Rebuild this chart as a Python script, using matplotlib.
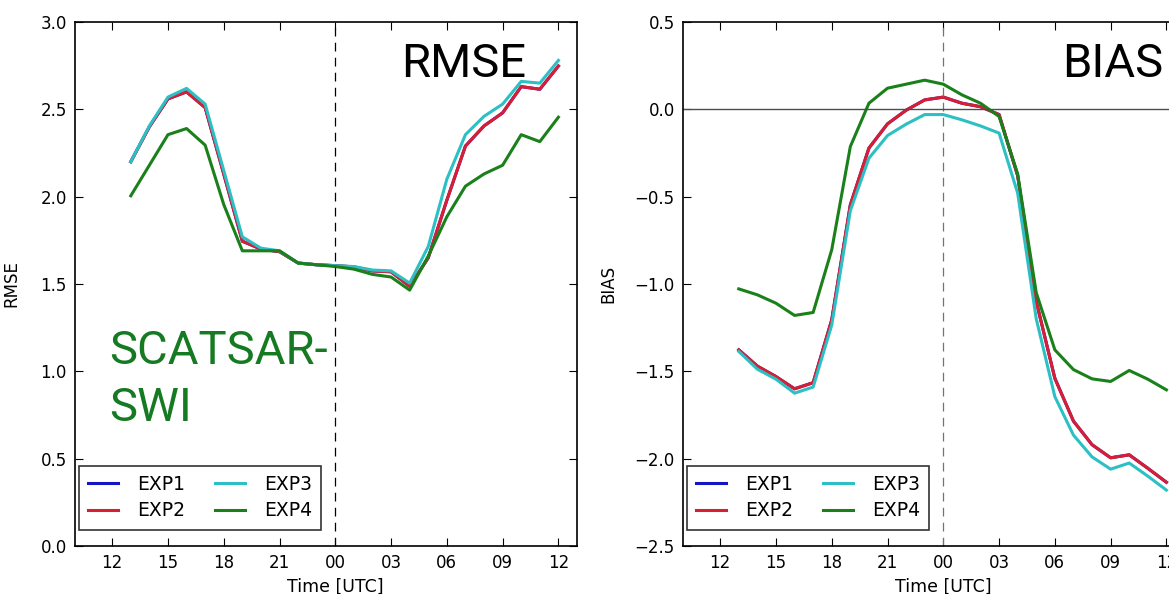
import matplotlib
matplotlib.use('Agg')
import matplotlib.pyplot as plt

# forecast lead hours, 13 UTC day 1 .. 12 UTC day 2
hours = list(range(13, 37))
tick_hours = [12, 15, 18, 21, 24, 27, 30, 33, 36]
tick_labels = ['12', '15', '18', '21', '00', '03', '06', '09', '12']

rmse_exp1 = [2.20, 2.40, 2.56, 2.60, 2.51, 2.13, 1.745, 1.70, 1.685, 1.62, 1.61, 1.605,
             1.598, 1.575, 1.57, 1.487, 1.65, 1.98, 2.29, 2.405, 2.48, 2.63, 2.615, 2.748]
rmse_exp2 = [2.20, 2.40, 2.56, 2.60, 2.51, 2.13, 1.745, 1.70, 1.685, 1.62, 1.61, 1.605,
             1.598, 1.575, 1.57, 1.487, 1.65, 1.98, 2.29, 2.405, 2.48, 2.63, 2.615, 2.748]
rmse_exp3 = [2.20, 2.405, 2.57, 2.62, 2.53, 2.15, 1.77, 1.705, 1.69, 1.62, 1.61, 1.605,
             1.60, 1.58, 1.575, 1.505, 1.715, 2.10, 2.355, 2.46, 2.53, 2.66, 2.65, 2.78]
rmse_exp4 = [2.005, 2.18, 2.355, 2.39, 2.295, 1.955, 1.69, 1.69, 1.69, 1.62, 1.61, 1.60,
             1.585, 1.555, 1.54, 1.465, 1.66, 1.885, 2.06, 2.13, 2.18, 2.355, 2.315, 2.455]

bias_exp1 = [-1.377, -1.47, -1.53, -1.60, -1.565, -1.205, -0.547, -0.222, -0.083, -0.005, 0.054, 0.07,
             0.035, 0.015, -0.03, -0.38, -1.10, -1.54, -1.785, -1.92, -1.995, -1.978, -2.055, -2.135]
bias_exp2 = [-1.377, -1.47, -1.53, -1.60, -1.565, -1.205, -0.547, -0.222, -0.083, -0.005, 0.054, 0.07,
             0.035, 0.015, -0.03, -0.38, -1.10, -1.54, -1.785, -1.92, -1.995, -1.978, -2.055, -2.135]
bias_exp3 = [-1.386, -1.488, -1.545, -1.625, -1.59, -1.235, -0.58, -0.28, -0.15, -0.085, -0.03, -0.03,
             -0.06, -0.095, -0.136, -0.48, -1.20, -1.645, -1.865, -1.99, -2.06, -2.025, -2.10, -2.18]
bias_exp4 = [-1.028, -1.062, -1.11, -1.18, -1.163, -0.804, -0.213, 0.035, 0.121, 0.144, 0.167, 0.144,
             0.083, 0.035, -0.041, -0.37, -1.05, -1.377, -1.49, -1.543, -1.558, -1.495, -1.545, -1.606]

names = ['EXP1', 'EXP2', 'EXP3', 'EXP4']
colors = ['#1414c8', '#d81e32', '#2cc0c4', '#1a801a']


def style_axes(ax, ylabel, ylim, label_x):
    ax.set_xlim(10, 37)
    ax.set_ylim(*ylim)
    ax.set_xticks(tick_hours)
    ax.set_xticklabels(tick_labels)
    ax.tick_params(direction='in', top=True, right=True, length=5.5, width=0.8,
                   labelsize=12, pad=6)
    for sp in ax.spines.values():
        sp.set_linewidth(1.2)
    ax.set_xlabel('Time [UTC]', fontsize=12.5, labelpad=4)
    ax.xaxis.label.set_x((24 - 10) / 27.)
    ax.set_ylabel(ylabel, fontsize=12)
    ax.yaxis.set_label_coords(label_x, 0.5)
    leg = ax.legend(loc='lower left', ncol=2, fontsize=13.5, bbox_to_anchor=(0.008, 0.031),
                    borderaxespad=0, fancybox=False, handlelength=1.6, handletextpad=1.0,
                    columnspacing=1.6, labelspacing=0.4, borderpad=0.5)
    leg.get_frame().set_edgecolor('k')
    leg.get_frame().set_linewidth(1.2)


fig = plt.figure(figsize=(11.69, 5.94), dpi=100)
ax1 = fig.add_axes([75 / 1169., 48 / 594., 502 / 1169., 524 / 594.])
ax2 = fig.add_axes([683 / 1169., 48 / 594., 502 / 1169., 524 / 594.])

for vals, name, c in zip([rmse_exp1, rmse_exp2, rmse_exp3, rmse_exp4], names, colors):
    ax1.plot(hours, vals, color=c, lw=2.2, label=name)
ax1.axvline(24, color='k', lw=0.9, ls=(0, (7, 5)))
style_axes(ax1, 'RMSE', (0, 3), -0.108)

for vals, name, c in zip([bias_exp1, bias_exp2, bias_exp3, bias_exp4], names, colors):
    ax2.plot(hours, vals, color=c, lw=2.2, label=name)
ax2.axvline(24, color='0.45', lw=0.9, ls=(0, (7, 5)))
ax2.axhline(0, color='0.3', lw=1.0)
style_axes(ax2, 'BIAS', (-2.5, 0.5), -0.131)

fig.text(401 / 1169., 1 - 77 / 594., 'RMSE', fontsize=34, family='Roboto', va='baseline')
fig.text(1062 / 1169., 1 - 77 / 594., 'BIAS', fontsize=34, family='Roboto', va='baseline')
fig.text(109 / 1169., 1 - 364 / 594., 'SCATSAR-', fontsize=34, family='Roboto',
         color='#167a22', va='baseline')
fig.text(109 / 1169., 1 - 421 / 594., 'SWI', fontsize=34, family='Roboto',
         color='#167a22', va='baseline')

fig.savefig('out.png', dpi=100, facecolor='white')
